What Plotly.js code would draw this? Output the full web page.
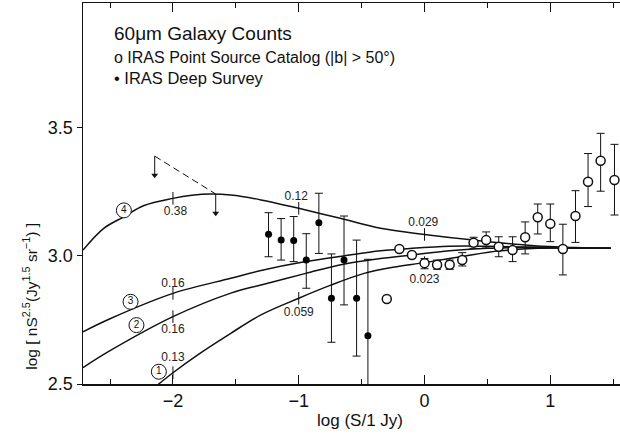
<!DOCTYPE html>
<html>
<head>
<meta charset="utf-8">
<script src="https://cdn.plot.ly/plotly-3.0.1.min.js"></script>
<style>html,body{margin:0;padding:0;background:#fff;}#chart{width:620px;height:438px;}</style>
</head>
<body>
<div id="chart"></div>
<script>
// ---- Data ----
// IRAS Point Source Catalog (open circles)
const pscX   = [-0.30, -0.20, -0.10, 0.00, 0.10, 0.20, 0.30, 0.39, 0.49, 0.59, 0.70, 0.80, 0.90, 1.00, 1.10, 1.20, 1.30, 1.40, 1.51];
const pscY   = [2.832, 3.027, 3.004, 2.972, 2.966, 2.966, 2.984, 3.052, 3.062, 3.036, 3.023, 3.073, 3.151, 3.126, 3.027, 3.156, 3.290, 3.372, 3.297];
const pscTop = [null, null, null, 2.990, 2.984, 2.984, 3.013, 3.073, 3.094, 3.075, 3.075, 3.133, 3.203, 3.203, 3.124, 3.255, 3.400, 3.479, 3.436];
const pscBot = [null, null, null, 2.950, 2.948, 2.948, 2.961, 3.030, 3.031, 2.997, 2.978, 3.008, 3.086, 3.056, 2.926, 3.053, 3.193, 3.253, 3.160];

// IRAS Deep Survey (filled circles)
const dsX   = [-1.24, -1.14, -1.04, -0.94, -0.84, -0.74, -0.64, -0.54, -0.45];
const dsY   = [3.085, 3.062, 3.060, 2.984, 3.130, 2.835, 2.984, 2.835, 2.688];
const dsTop = [3.169, 3.146, 3.154, 3.087, 3.245, 3.008, 3.156, 3.062, 2.987];
const dsBot = [2.997, 2.984, 2.978, 2.874, 3.010, 2.663, 2.809, 2.609, 2.300];

// Model curves
const m1X = [-2.15, -2.0, -1.8, -1.54, -1.3, -1.0, -0.75, -0.48, -0.25, 0.0, 0.3, 0.6, 0.9, 1.2, 1.48];
const m1Y = [2.485, 2.544, 2.615, 2.698, 2.770, 2.835, 2.885, 2.932, 2.956, 2.974, 2.998, 3.020, 3.030, 3.031, 3.030];
const m2X = [-2.715, -2.5, -2.0, -1.54, -1.3, -0.944, -0.644, -0.35, -0.1, 0.2, 0.5, 0.8, 1.1, 1.48];
const m2Y = [2.564, 2.630, 2.763, 2.855, 2.887, 2.932, 2.968, 2.990, 3.004, 3.020, 3.030, 3.033, 3.032, 3.030];
const m3X = [-2.715, -2.5, -2.0, -1.54, -1.3, -0.944, -0.644, -0.35, -0.1, 0.2, 0.5, 0.8, 1.1, 1.48];
const m3Y = [2.704, 2.755, 2.854, 2.913, 2.943, 2.978, 3.000, 3.020, 3.030, 3.038, 3.038, 3.035, 3.032, 3.030];
const m4X = [-2.715, -2.55, -2.39, -2.23, -2.0, -1.85, -1.70, -1.54, -1.3, -1.0, -0.67, -0.35, 0.0, 0.39, 0.87, 1.2, 1.48];
const m4Y = [3.023, 3.108, 3.153, 3.197, 3.225, 3.237, 3.242, 3.238, 3.219, 3.186, 3.147, 3.108, 3.084, 3.062, 3.040, 3.033, 3.030];

// Redshift marks on the curves and their labels
const zMarkX = [-2.0, -2.0, -2.0, -2.0, -1.0, -1.0, 0.0, 0.0];
const zMarkY = [3.225, 2.854, 2.763, 2.544, 3.186, 2.835, 3.084, 2.974];
const zLabX  = [-1.98, -2.0, -2.0, -2.0, -1.02, -1.0, -0.01, 0.0];
const zLabY  = [3.173, 2.891, 2.711, 2.600, 3.232, 2.776, 3.130, 2.905];
const zLab   = ["0.38", "0.16", "0.16", "0.13", "0.12", "0.059", "0.029", "0.023"];

// Curve number labels
const numX = [-2.112, -2.29, -2.337, -2.39];
const numY = [2.548, 2.730, 2.821, 3.178];
const numT = ["1", "2", "3", "4"];

// Upper-limit (dashed) marks
const limX = [-2.145, -1.66];
const limY = [3.390, 3.242];
const limLen = 0.075;

// Tick labels
const xTickVals = [-2, -1, 0, 1];
const xTickText = ["\u22122", "\u22121", "0", "1"];
const yTickVals = [2.5, 3.0, 3.5];
const yTickText = ["2.5", "3.0", "3.5"];

const FONT = "Liberation Sans, Arial, sans-serif";
const INK = "#111";
const curveLine = {color: INK, width: 1.5, shape: "spline", smoothing: 1};

function diff(a, b) { return a.map((v, i) => (v === null || b[i] === null) ? 0 : v - b[i]); }

// vertical stems for the upper-limit arrows (built from limX/limY)
const stemX = [], stemY = [];
limX.forEach((lx, i) => { stemX.push(lx, lx, null); stemY.push(limY[i], limY[i] - limLen, null); });
const headX = limX.slice();
const headY = limY.map(v => v - limLen);

const traces = [
  {x: m1X, y: m1Y, mode: "lines", line: curveLine},
  {x: m2X, y: m2Y, mode: "lines", line: curveLine},
  {x: m3X, y: m3Y, mode: "lines", line: curveLine},
  {x: m4X, y: m4Y, mode: "lines", line: curveLine},
  {x: limX, y: limY, mode: "lines", line: {color: INK, width: 1, dash: "7px,4px"}},
  {x: stemX, y: stemY, mode: "lines", line: {color: INK, width: 1}},
  {x: headX, y: headY, mode: "markers",
   marker: {symbol: "triangle-down", size: 6, color: INK, line: {width: 0}}},
  {x: zMarkX, y: zMarkY, mode: "markers",
   marker: {symbol: "line-ns-open", size: 9, color: INK, line: {color: INK, width: 1}}},
  {x: zLabX, y: zLabY, mode: "text", text: zLab, textposition: "middle center",
   textfont: {family: FONT, size: 12, color: "#222"}},
  {x: numX, y: numY, mode: "markers+text", text: numT, textposition: "middle center",
   marker: {symbol: "circle", size: 15, color: "#fff", line: {color: INK, width: 1}},
   textfont: {family: FONT, size: 10, color: INK}},
  {x: dsX, y: dsY, mode: "markers",
   marker: {symbol: "circle", size: 7, color: "#000"},
   error_y: {type: "data", symmetric: false, array: diff(dsTop, dsY), arrayminus: diff(dsY, dsBot),
             color: INK, thickness: 1, width: 4}},
  {x: pscX, y: pscY, mode: "markers",
   marker: {symbol: "circle", size: 9, color: "#fff", line: {color: INK, width: 1.5}},
   error_y: {type: "data", symmetric: false, array: diff(pscTop, pscY), arrayminus: diff(pscY, pscBot),
             color: INK, thickness: 1, width: 4}}
];

const annotations = [
  {xref: "paper", yref: "paper", x: 0.054, y: 0.921, xanchor: "left", yanchor: "middle", showarrow: false,
   text: "60\u03bcm Galaxy Counts", font: {family: FONT, size: 19, color: INK}},
  {xref: "paper", yref: "paper", x: 0.054, y: 0.856, xanchor: "left", yanchor: "middle", showarrow: false,
   text: "o IRAS Point Source Catalog (|b| > 50\u00b0)", font: {family: FONT, size: 16, color: INK}},
  {xref: "paper", yref: "paper", x: 0.054, y: 0.803, xanchor: "left", yanchor: "middle", showarrow: false,
   text: "\u2022 IRAS Deep Survey", font: {family: FONT, size: 16.5, color: INK}},
  {xref: "paper", yref: "paper", x: 0.516, y: -0.0945, xanchor: "center", yanchor: "middle", showarrow: false,
   text: "log (S/1 Jy)", font: {family: FONT, size: 17, color: INK}},
  {xref: "paper", yref: "paper", x: -0.098, y: 0.23, xanchor: "center", yanchor: "middle", showarrow: false,
   textangle: -90,
   text: "log [ nS<sup>2.5</sup>(Jy<sup>1.5</sup> sr<sup>\u22121</sup>) ]", font: {family: FONT, size: 15.5, color: INK}}
];

const layout = {
  width: 620, height: 438,
  margin: {l: 83, r: 0, t: 3, b: 54},
  paper_bgcolor: "#fff", plot_bgcolor: "#fff",
  showlegend: false,
  hovermode: false,
  font: {family: FONT, color: INK},
  xaxis: {range: [-2.715, 1.554], showgrid: false, zeroline: false,
    showline: true, linecolor: INK, linewidth: 1.5, mirror: "allticks",
    ticks: "inside", ticklen: 9, tickwidth: 1, tickcolor: INK,
    tickvals: xTickVals, ticktext: xTickText, tickfont: {family: FONT, size: 18, color: INK},
    minor: {dtick: 0.5, tick0: 0, ticks: "inside", ticklen: 5, tickwidth: 1, tickcolor: INK, showgrid: false}},
  yaxis: {range: [2.5, 3.988], showgrid: false, zeroline: false,
    showline: true, linecolor: INK, linewidth: 1.5, mirror: false,
    ticks: "outside", ticklen: 5, tickwidth: 1, tickcolor: INK,
    tickvals: yTickVals, ticktext: yTickText, tickfont: {family: FONT, size: 18, color: INK}},
  annotations: annotations
};

Plotly.newPlot("chart", traces, layout, {staticPlot: true, displayModeBar: false});
</script>
</body>
</html>
